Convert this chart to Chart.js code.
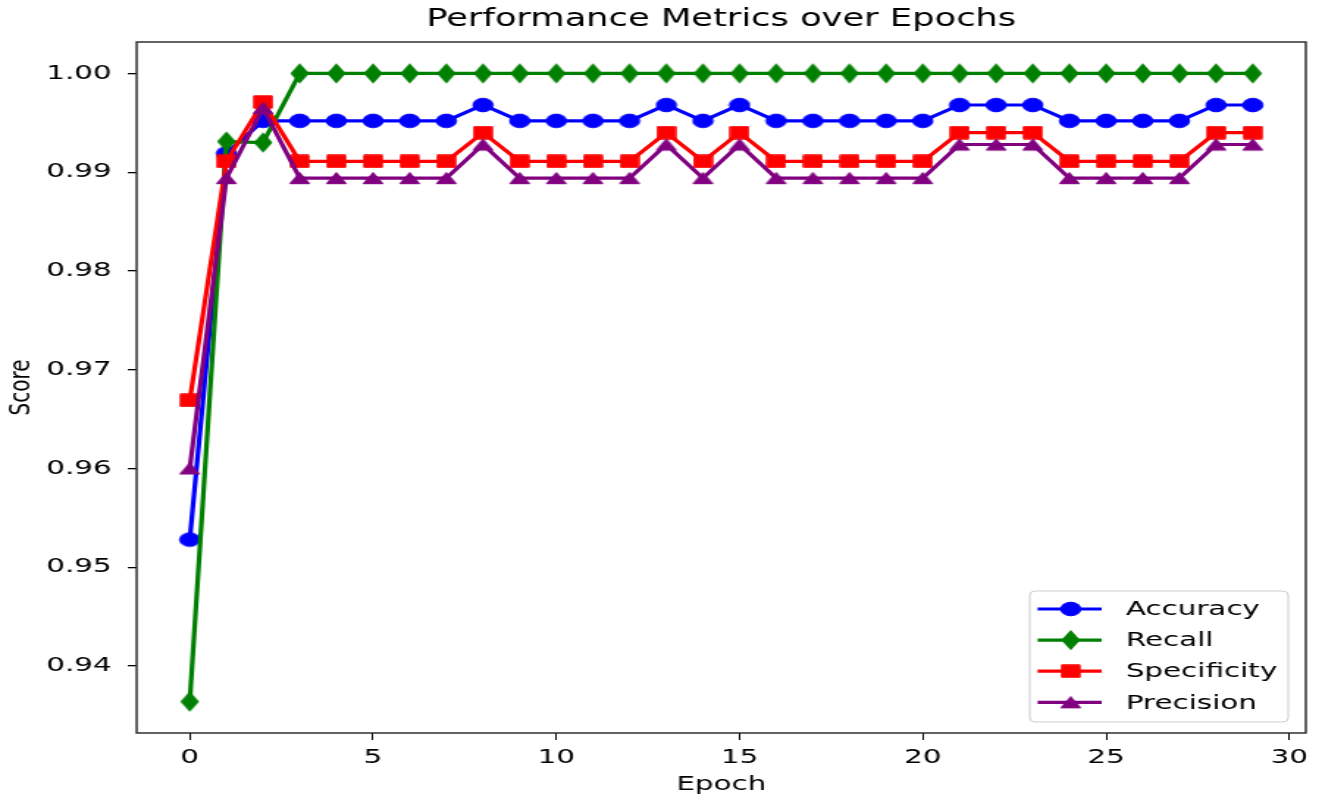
<!DOCTYPE html>
<html>
<head>
<meta charset="utf-8">
<script src="https://cdn.jsdelivr.net/npm/chart.js@4.4.1/dist/chart.umd.min.js"></script>
<style>
html, body { margin: 0; padding: 0; background: #fff; overflow: hidden; }
#wrap { width: 900px; height: 802px; transform: scaleX(1.468889); transform-origin: 0 0; }
canvas { display: block; }
</style>
</head>
<body>
<div id="wrap"><canvas id="c" width="900" height="802"></canvas></div>
<script>
// ---- data ----
const epochs = [0,1,2,3,4,5,6,7,8,9,10,11,12,13,14,15,16,17,18,19,20,21,22,23,24,25,26,27,28,29];
const accuracy = [0.9528,0.9919,0.9952,0.9952,0.9952,0.9952,0.9952,0.9952,0.9968,0.9952,
                  0.9952,0.9952,0.9952,0.9968,0.9952,0.9968,0.9952,0.9952,0.9952,0.9952,
                  0.9952,0.9968,0.9968,0.9968,0.9952,0.9952,0.9952,0.9952,0.9968,0.9968];
const recall = [0.9364,0.9931,0.9930,1,1,1,1,1,1,1,
                1,1,1,1,1,1,1,1,1,1,
                1,1,1,1,1,1,1,1,1,1];
const specificity = [0.9669,0.9911,0.9971,0.9911,0.9911,0.9911,0.9911,0.9911,0.9940,0.9911,
                     0.9911,0.9911,0.9911,0.9940,0.9911,0.9940,0.9911,0.9911,0.9911,0.9911,
                     0.9911,0.9940,0.9940,0.9940,0.9911,0.9911,0.9911,0.9911,0.9940,0.9940];
const precision = [0.9600,0.9894,0.9965,0.9894,0.9894,0.9894,0.9894,0.9894,0.9928,0.9894,
                   0.9894,0.9894,0.9894,0.9928,0.9894,0.9928,0.9894,0.9894,0.9894,0.9894,
                   0.9894,0.9928,0.9928,0.9928,0.9894,0.9894,0.9894,0.9894,0.9928,0.9928];
const seriesNames = ['Accuracy', 'Recall', 'Specificity', 'Precision'];
const xTickValues = [0, 5, 10, 15, 20, 25, 30];
const yTickValues = [0.94, 0.95, 0.96, 0.97, 0.98, 0.99, 1.00];
const titleText = 'Performance Metrics over Epochs';
const xLabel = 'Epoch';
const yLabel = 'Score';

// ---- styling ----
const FONT = "'DejaVu Sans', 'Liberation Sans', sans-serif";
Chart.defaults.font.family = FONT;
Chart.defaults.color = '#000';

const seriesColors = ['#0000ff', '#008000', '#ff0000', '#800080'];
const seriesShapes = ['circle', 'diamond', 'square', 'triangle'];

function makeMarker(shape, color) {
  const dims = {circle: [16, 16], square: [14, 14], diamond: [14, 22], triangle: [16, 14]}[shape];
  const c = document.createElement('canvas');
  c.width = dims[0]; c.height = dims[1];
  const g = c.getContext('2d');
  const cx = c.width / 2, cy = c.height / 2;
  g.fillStyle = color; g.strokeStyle = color; g.lineWidth = 1;
  g.beginPath();
  if (shape === 'circle') {
    g.arc(cx, cy, 6.8, 0, Math.PI * 2);
  } else if (shape === 'square') {
    g.rect(cx - 6.2, cy - 6.2, 12.4, 12.4);
  } else if (shape === 'diamond') {
    g.moveTo(cx, cy - 9.4); g.lineTo(cx + 5.9, cy); g.lineTo(cx, cy + 9.4); g.lineTo(cx - 5.9, cy); g.closePath();
  } else {
    g.moveTo(cx, cy - 5.6); g.lineTo(cx + 6.7, cy + 5.6); g.lineTo(cx - 6.7, cy + 5.6); g.closePath();
  }
  g.fill(); g.stroke();
  return c;
}

const allSeries = [accuracy, recall, specificity, precision];
const allVals = allSeries.flat();
const dLo = Math.min(...allVals), dHi = Math.max(...allVals);
const yPad = (dHi - dLo) * 0.05;
const xPad = (epochs[epochs.length - 1] - epochs[0]) * 0.05;

const datasets = allSeries.map((vals, i) => ({
  label: seriesNames[i],
  data: vals.map((v, k) => ({x: epochs[k], y: v})),
  borderColor: seriesColors[i],
  backgroundColor: seriesColors[i],
  borderWidth: 3.2,
  pointStyle: makeMarker(seriesShapes[i], seriesColors[i]),
  pointRadius: 7,
  pointHoverRadius: 7,
  tension: 0,
  order: allSeries.length - 1 - i
}));

const framePlugin = {
  id: 'frame',
  afterDatasetsDraw(chart) {
    const {ctx, chartArea: a} = chart;
    ctx.save();
    ctx.strokeStyle = '#222';
    ctx.lineWidth = 1.4;
    ctx.strokeRect(a.left, a.top, a.right - a.left, a.bottom - a.top);
    ctx.restore();
  }
};

const boxLegend = {
  id: 'boxLegend',
  afterDraw(chart) {
    const {ctx, chartArea: a} = chart;
    const w = 176, h = 131;
    const x0 = a.right - 12 - w, y0 = a.bottom - 11 - h;
    ctx.save();
    const r = 4;
    ctx.beginPath();
    ctx.moveTo(x0 + r, y0);
    ctx.lineTo(x0 + w - r, y0); ctx.quadraticCurveTo(x0 + w, y0, x0 + w, y0 + r);
    ctx.lineTo(x0 + w, y0 + h - r); ctx.quadraticCurveTo(x0 + w, y0 + h, x0 + w - r, y0 + h);
    ctx.lineTo(x0 + r, y0 + h); ctx.quadraticCurveTo(x0, y0 + h, x0, y0 + h - r);
    ctx.lineTo(x0, y0 + r); ctx.quadraticCurveTo(x0, y0, x0 + r, y0);
    ctx.closePath();
    ctx.fillStyle = 'rgba(255,255,255,0.85)';
    ctx.fill();
    ctx.strokeStyle = '#cccccc';
    ctx.lineWidth = 1;
    ctx.stroke();
    chart.data.datasets.forEach((ds, i) => {
      const cy = y0 + 18 + i * 31.1;
      ctx.strokeStyle = ds.borderColor;
      ctx.lineWidth = ds.borderWidth;
      ctx.beginPath();
      ctx.moveTo(x0 + 5.4, cy); ctx.lineTo(x0 + 49, cy);
      ctx.stroke();
      const m = ds.pointStyle;
      ctx.drawImage(m, x0 + 27.9 - m.width / 2, cy - m.height / 2);
      ctx.fillStyle = '#000';
      ctx.font = '20px ' + FONT;
      ctx.textAlign = 'left';
      ctx.textBaseline = 'middle';
      ctx.fillText(ds.label, x0 + 65.4, cy + 1);
    });
    ctx.restore();
  }
};

new Chart(document.getElementById('c'), {
  type: 'line',
  data: {datasets},
  options: {
    responsive: false,
    animation: false,
    devicePixelRatio: 1,
    layout: {padding: {left: 0, right: 11, top: 0, bottom: 0}},
    plugins: {
      legend: {display: false},
      tooltip: {enabled: false},
      title: {
        display: true, text: titleText, fullSize: false, color: '#000',
        font: {size: 24, weight: 'normal'},
        padding: {top: 5.6, bottom: 7.6}
      }
    },
    scales: {
      x: {
        type: 'linear',
        min: epochs[0] - xPad,
        max: epochs[epochs.length - 1] + xPad,
        afterBuildTicks: s => { s.ticks = xTickValues.map(v => ({value: v})); },
        afterFit: s => { s.height = 69; },
        ticks: {callback: v => String(v), color: '#000', font: {size: 20}, padding: 6, maxRotation: 0, autoSkip: false},
        grid: {drawOnChartArea: false, drawTicks: true, tickLength: 7, color: '#000', lineWidth: 1},
        border: {display: false},
        title: {display: true, text: xLabel, color: '#000', font: {size: 20}, padding: {top: 0, bottom: 5}}
      },
      y: {
        type: 'linear',
        min: dLo - yPad,
        max: dHi + yPad,
        afterBuildTicks: s => { s.ticks = yTickValues.map(v => ({value: v})); },
        afterFit: s => { s.width = 93; },
        ticks: {callback: v => Number(v).toFixed(2), color: '#000', font: {size: 20}, padding: 11, autoSkip: false},
        grid: {drawOnChartArea: false, drawTicks: true, tickLength: 6, color: '#000', lineWidth: 1.3},
        border: {display: false},
        title: {display: true, text: yLabel, color: '#000', font: {size: 20}, padding: {top: 3, bottom: 0}}
      }
    }
  },
  plugins: [framePlugin, boxLegend]
});
</script>
</body>
</html>
